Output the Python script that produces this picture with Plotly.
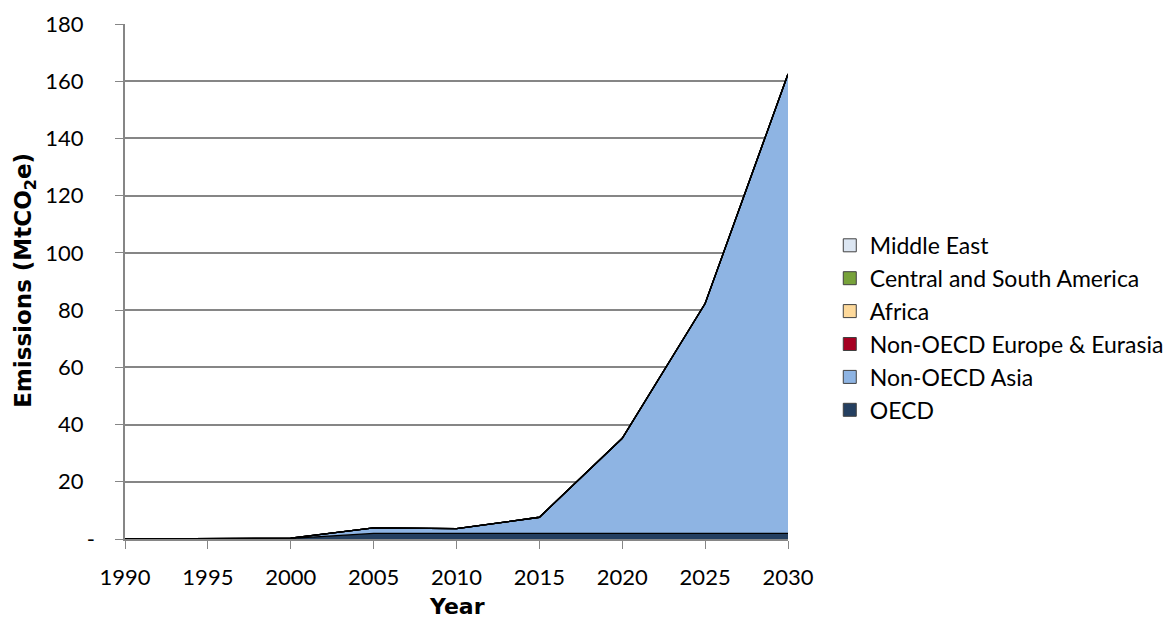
import plotly.graph_objects as go

years = [1990, 1995, 2000, 2005, 2010, 2015, 2020, 2025, 2030]
oecd = [0.0, 0.1, 0.2, 2.0, 2.0, 2.0, 2.0, 2.0, 2.0]
non_oecd_asia = [0.0, 0.1, 0.1, 1.9, 1.6, 5.6, 33.2, 80.3, 160.5]
non_oecd_europe = [0, 0, 0, 0, 0, 0, 0, 0, 0]
africa = [0, 0, 0, 0, 0, 0, 0, 0, 0]
csa = [0, 0, 0, 0, 0, 0, 0, 0, 0]
middle_east = [0, 0, 0, 0, 0, 0, 0, 0, 0]
y_ticks = [0, 20, 40, 60, 80, 100, 120, 140, 160, 180]
y_tick_labels = ["-", "20", "40", "60", "80", "100", "120", "140", "160", "180"]
x_title = "Year"
y_title = "Emissions (MtCO<sub>2</sub>e)"

series = [
    ("OECD", oecd, "#243f60"),
    ("Non-OECD Asia", non_oecd_asia, "#8eb4e3"),
    ("Non-OECD Europe & Eurasia", non_oecd_europe, "#a50021"),
    ("Africa", africa, "#fdd99b"),
    ("Central and South America", csa, "#77a23a"),
    ("Middle East", middle_east, "#dce6f2"),
]

FONT = "Lato, 'Open Sans', sans-serif"
TITLE_FONT = "'DejaVu Sans', sans-serif"
PAD = "\u00a0\u00a0"

fig = go.Figure()
for name, vals, color in series:
    fig.add_trace(go.Scatter(
        x=years, y=vals, name=name, mode="lines",
        stackgroup="one", fillcolor=color,
        line=dict(color="black", width=1.3),
        showlegend=False,
    ))
# legend entries as square swatches
for name, vals, color in series:
    fig.add_trace(go.Scatter(
        x=[None], y=[None], name=name, mode="markers",
        marker=dict(symbol="square", size=13, color=color,
                    line=dict(color="#404040", width=1)),
        showlegend=True,
    ))

W, H = 1171, 620
L, T = 125, 24
PW, PH = 663, 515

fig.update_layout(
    width=W, height=H,
    margin=dict(l=L, r=W - L - PW, t=T, b=H - T - PH, autoexpand=False),
    plot_bgcolor="white", paper_bgcolor="white",
    font=dict(family=FONT, size=22, color="black"),
    legend=dict(traceorder="reversed", x=1.063, xanchor="left", y=0.41, yanchor="middle",
                font=dict(size=23), itemwidth=30, tracegroupgap=0),
    xaxis=dict(
        range=[1990, 2030], tickvals=years, showgrid=False,
        showline=True, linecolor="#868686", linewidth=1.5,
        ticks="outside", ticklen=8, tickcolor="#868686",
        ticklabelstandoff=10,
        zeroline=False,
    ),
    yaxis=dict(
        range=[0, 180], tickvals=y_ticks,
        ticktext=[t if t == "-" else t + PAD for t in y_tick_labels],
        showgrid=True, gridcolor="#868686", gridwidth=1.5,
        showline=True, linecolor="#868686", linewidth=1.5,
        ticks="outside", ticklen=8, tickcolor="#868686",
        ticklabelstandoff=16,
        zeroline=False,
    ),
    annotations=[
        dict(text="<b>" + x_title + "</b>", xref="paper", yref="paper",
             x=0.5, y=-0.132, xanchor="center", yanchor="middle", showarrow=False,
             font=dict(family=TITLE_FONT, size=22)),
        dict(text="<b>" + y_title + "</b>", xref="paper", yref="paper",
             x=-0.151, y=0.503, xanchor="center", yanchor="middle", showarrow=False,
             textangle=-90, font=dict(family=TITLE_FONT, size=23)),
    ],
)

fig.write_html("out.html",
               config={"displayModeBar": False},
               post_script="document.body.style.margin='0';document.body.style.overflow='hidden';")
